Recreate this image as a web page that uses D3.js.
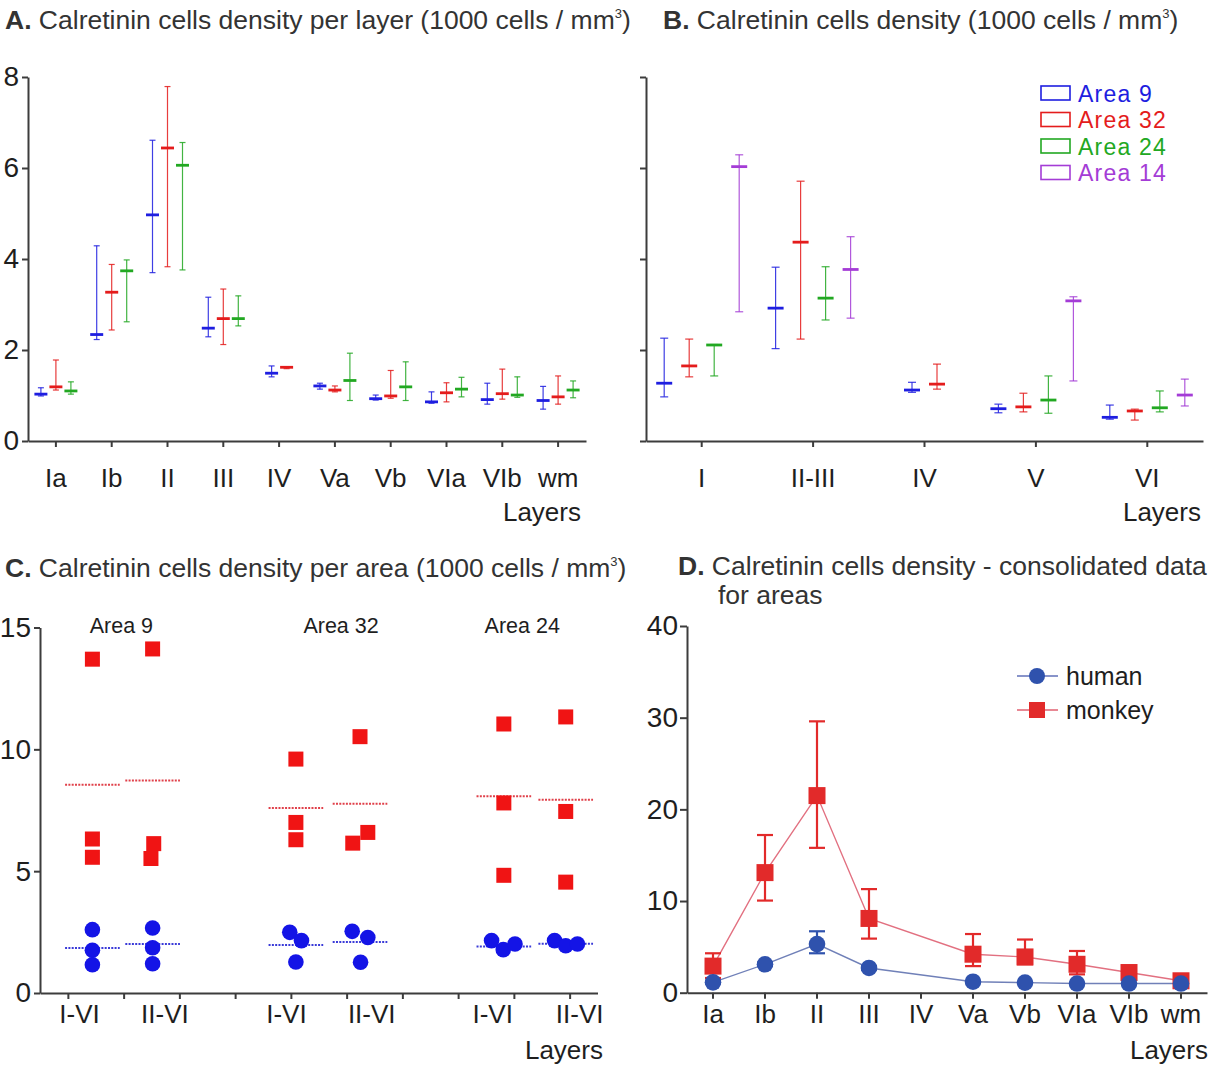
<!DOCTYPE html>
<html><head><meta charset="utf-8">
<script src="https://cdn.jsdelivr.net/npm/d3@7"></script>
<style>body{margin:0;background:#fff} text{font-family:"Liberation Sans",Arial,Helvetica,sans-serif}</style>
</head><body><svg id="c" width="1212" height="1065"></svg>
<script>
// ---------- Panel A data: [mean, low, high] per layer (null = not measured)
const layersA = ["Ia","Ib","II","III","IV","Va","Vb","VIa","VIb","wm"];
const area9A  = [[1.03,0.99,1.17],[2.34,2.23,4.29],[4.97,3.70,6.61],[2.48,2.29,3.16],[1.49,1.41,1.65],[1.21,1.14,1.27],[0.93,0.90,1.01],[0.86,0.83,1.08],[0.91,0.81,1.27],[0.89,0.70,1.20]];
const area32A = [[1.19,1.12,1.78],[3.27,2.44,3.88],[6.44,3.83,7.79],[2.69,2.12,3.34],[1.62,1.59,1.63],[1.12,1.08,1.21],[0.99,0.94,1.55],[1.06,0.86,1.28],[1.04,0.92,1.58],[0.97,0.81,1.43]];
const area24A = [[1.10,1.03,1.30],[3.74,2.62,3.98],[6.06,3.76,6.56],[2.69,2.53,3.19],null,[1.33,0.89,1.93],[1.19,0.89,1.74],[1.14,0.97,1.40],[1.01,0.96,1.41],[1.12,0.95,1.32]];
const yTicksA = [0,2,4,6,8];

// ---------- Panel B data
const layersB = ["I","II-III","IV","V","VI"];
const areaNames = ["Area 9","Area 32","Area 24","Area 14"];
const area9B  = [[1.27,0.97,2.26],[2.92,2.03,3.82],[1.12,1.07,1.29],[0.71,0.62,0.81],[0.52,0.48,0.79]];
const area32B = [[1.65,1.41,2.24],[4.37,2.24,5.71],[1.25,1.14,1.69],[0.75,0.64,1.05],[0.66,0.46,0.70]];
const area24B = [[2.11,1.43,2.12],[3.14,2.66,3.83],null,[0.90,0.61,1.43],[0.73,0.64,1.10]];
const area14B = [[6.03,2.84,6.29],[3.77,2.70,4.49],null,[3.08,1.32,3.17],[1.01,0.77,1.36]];

// ---------- Panel C data
const groupsC = ["I-VI","II-VI","I-VI","II-VI","I-VI","II-VI"];
const areaTitlesC = ["Area 9","Area 32","Area 24"];
const areaTitlePosC = [0.96,4.9,8.15];
const groupPosC = [0.44,1.52,4.09,5.24,7.82,8.93];
const labelPosC = [0.21,1.74,3.92,5.45,7.62,9.18];
const humanC = [[2.60,1.75,1.16],[2.67,1.86,1.20],[2.49,2.15,1.27],[2.53,2.28,1.26],[2.15,1.78,2.01],[2.15,1.94,2.01]];
const humanJitterC = [[0,0,0],[0,0,0],[-0.11,0.10,0],[-0.14,0.14,0.01],[-0.22,-0.01,0.20],[-0.20,0,0.21]];
const monkeyC = [[13.7,6.32,5.57],[14.12,6.13,5.52],[9.60,7.00,6.29],[10.52,6.59,6.15],[11.04,7.80,4.83],[11.33,7.45,4.55]];
const monkeyJitterC = [[0,0,0],[0,0.02,-0.03],[0,0,0],[0,0.14,-0.13],[0,0,0],[0,0,0]];
const humanMeanC = [1.85,2.01,1.97,2.09,1.91,2.02];
const monkeyMeanC = [8.55,8.72,7.59,7.77,8.07,7.93];
const yTicksC = [0,5,10,15];

// ---------- Panel D data: [mean, low, high]
const layersD = ["Ia","Ib","II","III","IV","Va","Vb","VIa","VIb","wm"];
const humanD  = [[1.13,1.0,1.3],[3.1,2.9,3.3],[5.3,4.3,6.7],[2.7,2.5,2.9],null,[1.2,1.1,1.3],[1.1,1.0,1.2],[1.0,0.9,1.1],[1.0,0.9,1.1],[1.0,0.9,1.1]];
const monkeyD = [[2.9,1.6,4.3],[13.1,10.05,17.2],[21.5,15.8,29.6],[8.1,5.9,11.3],null,[4.2,2.9,6.4],[3.9,3.1,5.8],[3.1,2.0,4.55],[2.2,1.8,2.6],[1.3,1.0,1.6]];
const yTicksD = [0,10,20,30,40];

// ---------- styles
const FONT = '"Liberation Sans",Arial,Helvetica,sans-serif';
const COL = {blue:"#1e1ee0", red:"#e41c1c", green:"#22a822", purple:"#a43cd6"};
const AXIS = "#3c3c3c", TXT = "#1e1e1e";
const TFS = 26.5;   // title font size
const LFS = 26;     // axis label font size
const svg = d3.select("#c");

function styleAxis(g, fs){
  g.select(".domain").attr("stroke",AXIS).attr("stroke-width",2);
  g.selectAll(".tick line").attr("stroke",AXIS).attr("stroke-width",2);
  g.selectAll(".tick text").attr("fill",TXT).style("font-size",fs+"px").style("font-family",FONT);
}
function title(x, y, letter, rest, sup, after){
  const t = svg.append("text").attr("x",x).attr("y",y).attr("fill","#333").style("font-size",TFS+"px");
  t.append("tspan").attr("font-weight","bold").text(letter);
  t.append("tspan").text(rest);
  if(sup){
    t.append("tspan").attr("dy",-11).style("font-size","13px").text(sup);
    t.append("tspan").attr("dy",11).text(after);
  }
  return t;
}
function label(x,y,txt,anchor,fs){
  return svg.append("text").attr("x",x).attr("y",y).attr("text-anchor",anchor||"middle")
    .attr("fill",TXT).style("font-size",(fs||LFS)+"px").text(txt);
}

// error bar groups (A, B)
function errorPanel(x, y, seriesList, colors, step, capW, meanW){
  const g = svg.append("g");
  x.domain().forEach((cat,i)=>{
    const present = seriesList.map((s,k)=>({d:s[i],k})).filter(o=>o.d);
    const n = present.length;
    present.forEach((o,j)=>{
      const cx = x(cat)+x.bandwidth()/2 + (j-(n-1)/2)*step;
      const [m,lo,hi] = o.d, c = colors[o.k];
      g.append("line").attr("x1",cx).attr("x2",cx).attr("y1",y(lo)).attr("y2",y(hi)).attr("stroke",c).attr("stroke-width",1.2).attr("opacity",0.85);
      [lo,hi].forEach(v=>g.append("line").attr("x1",cx-capW/2).attr("x2",cx+capW/2).attr("y1",y(v)).attr("y2",y(v)).attr("stroke",c).attr("stroke-width",1.2).attr("opacity",0.85));
      g.append("line").attr("x1",cx-meanW/2).attr("x2",cx+meanW/2).attr("y1",y(m)).attr("y2",y(m)).attr("stroke",c).attr("stroke-width",2.8);
    });
  });
}

// ================= Panel A
{
  const x = d3.scaleBand().domain(layersA).range([28,586]);
  const y = d3.scaleLinear().domain([0,8]).range([441,77]);
  const ax = svg.append("g").attr("transform","translate(0,441)")
    .call(d3.axisBottom(x).tickSize(6).tickSizeOuter(0).tickFormat(""));
  styleAxis(ax,LFS);
  const ay = svg.append("g").attr("transform","translate(28,0)")
    .call(d3.axisLeft(y).tickValues(yTicksA).tickSize(6).tickPadding(3).tickSizeOuter(0));
  styleAxis(ay,28);
  layersA.forEach(l=>label(x(l)+x.bandwidth()/2, 487, l));
  label(581, 521, "Layers", "end");
  errorPanel(x,y,[area9A,area32A,area24A],[COL.blue,COL.red,COL.green],15,6,13);
  title(5, 29, "A.", " Calretinin cells density per layer (1000 cells / mm", "3", ")");
}

// ================= Panel B
{
  const x = d3.scaleBand().domain(layersB).range([646,1203]);
  const y = d3.scaleLinear().domain([0,8]).range([441,77]);
  const ax = svg.append("g").attr("transform","translate(0,441)")
    .call(d3.axisBottom(x).tickSize(6).tickSizeOuter(0).tickFormat(""));
  styleAxis(ax,LFS);
  const ay = svg.append("g").attr("transform","translate(646,0)")
    .call(d3.axisLeft(y).tickValues(yTicksA).tickSize(6).tickSizeOuter(0).tickFormat(""));
  styleAxis(ay,LFS);
  layersB.forEach(l=>label(x(l)+x.bandwidth()/2, 487, l));
  label(1201, 521, "Layers", "end");
  errorPanel(x,y,[area9B,area32B,area24B,area14B],[COL.blue,COL.red,COL.green,COL.purple],25,8,16);
  title(663, 29, "B.", " Calretinin cells density (1000 cells / mm", "3", ")");
  // legend
  const cols = [COL.blue,COL.red,COL.green,COL.purple];
  areaNames.forEach((n,i)=>{
    const yy = 93 + i*26.5;
    svg.append("rect").attr("x",1041).attr("y",yy-7).attr("width",29).attr("height",14)
      .attr("fill","none").attr("stroke",cols[i]).attr("stroke-width",1.6);
    svg.append("text").attr("x",1078).attr("y",yy+8.5).attr("fill",cols[i])
      .style("font-size","23px").style("letter-spacing","1.2px").text(n);
  });
}

// ================= Panel C
{
  const x = d3.scaleLinear().domain([-0.5,9.5]).range([40,597.5]);
  const y = d3.scaleLinear().domain([0,15]).range([993,627.5]);
  const ax = svg.append("g").attr("transform","translate(0,993)")
    .call(d3.axisBottom(x).tickValues(d3.range(0,10)).tickSize(6).tickSizeOuter(0).tickFormat(""));
  styleAxis(ax,LFS);
  const ay = svg.append("g").attr("transform","translate(40,0)")
    .call(d3.axisLeft(y).tickValues(yTicksC).tickSize(6).tickPadding(3).tickSizeOuter(0));
  styleAxis(ay,28);
  groupsC.forEach((gname,i)=>label(x(labelPosC[i]), 1023, gname));
  label(603, 1059, "Layers", "end");
  areaTitlesC.forEach((a,i)=>label(x(areaTitlePosC[i]), 633, a, "middle", 21.5));
  const g = svg.append("g");
  groupPosC.forEach((p,i)=>{
    g.append("line").attr("x1",x(p-0.49)).attr("x2",x(p+0.49)).attr("y1",y(monkeyMeanC[i])).attr("y2",y(monkeyMeanC[i]))
      .attr("stroke","#e0404a").attr("stroke-width",2).attr("stroke-dasharray","2,1.3");
    g.append("line").attr("x1",x(p-0.49)).attr("x2",x(p+0.49)).attr("y1",y(humanMeanC[i])).attr("y2",y(humanMeanC[i]))
      .attr("stroke","#3a3ad8").attr("stroke-width",2).attr("stroke-dasharray","2,1.3");
    monkeyC[i].forEach((v,k)=>{
      const cx = x(p+monkeyJitterC[i][k]);
      g.append("rect").attr("x",cx-7.5).attr("y",y(v)-7.5).attr("width",15).attr("height",15).attr("fill","#f01414");
    });
    humanC[i].forEach((v,k)=>{
      const cx = x(p+humanJitterC[i][k]);
      g.append("circle").attr("cx",cx).attr("cy",y(v)).attr("r",7.8).attr("fill","#1414e6");
    });
  });
  title(5, 577, "C.", " Calretinin cells density per area (1000 cells / mm", "3", ")");
}

// ================= Panel D
{
  const x = d3.scaleBand().domain(layersD).range([687,1207]);
  const y = d3.scaleLinear().domain([0,40]).range([992.7,626]);
  const cx = l => x(l)+x.bandwidth()/2;
  const ax = svg.append("g").attr("transform","translate(0,992.7)")
    .call(d3.axisBottom(x).tickSize(6).tickSizeOuter(0).tickFormat(""));
  styleAxis(ax,LFS);
  const ay = svg.append("g").attr("transform","translate(687,0)")
    .call(d3.axisLeft(y).tickValues(yTicksD).tickSize(7).tickPadding(2).tickSizeOuter(0));
  styleAxis(ay,28);
  layersD.forEach(l=>label(cx(l), 1023, l));
  label(1208, 1059, "Layers", "end");

  const line = d3.line().x(d=>cx(d.l)).y(d=>y(d.v[0]));
  const mk = arr => layersD.map((l,i)=>({l,v:arr[i]})).filter(d=>d.v);
  const hum = mk(humanD), mon = mk(monkeyD);
  const g = svg.append("g");
  g.append("path").attr("d",line(mon)).attr("fill","none").attr("stroke","#e27080").attr("stroke-width",1.4);
  g.append("path").attr("d",line(hum)).attr("fill","none").attr("stroke","#7080b8").attr("stroke-width",1.4);
  function eb(data,color){
    data.forEach(d=>{
      const xx = cx(d.l), [m,lo,hi] = d.v;
      g.append("line").attr("x1",xx).attr("x2",xx).attr("y1",y(lo)).attr("y2",y(hi)).attr("stroke",color).attr("stroke-width",2.2);
      [lo,hi].forEach(v=>g.append("line").attr("x1",xx-8).attr("x2",xx+8).attr("y1",y(v)).attr("y2",y(v)).attr("stroke",color).attr("stroke-width",2.2));
    });
  }
  eb(mon,"#e22a2a"); eb(hum,"#2f52ad");
  mon.forEach(d=>g.append("rect").attr("x",cx(d.l)-8.5).attr("y",y(d.v[0])-8.5).attr("width",17).attr("height",17).attr("fill","#e22a2a"));
  hum.forEach(d=>g.append("circle").attr("cx",cx(d.l)).attr("cy",y(d.v[0])).attr("r",8.3).attr("fill","#2f52ad"));

  // legend
  svg.append("line").attr("x1",1017).attr("x2",1058).attr("y1",676).attr("y2",676).attr("stroke","#6070b8").attr("stroke-width",1.6);
  svg.append("circle").attr("cx",1037).attr("cy",676).attr("r",8).attr("fill","#2f52ad");
  svg.append("text").attr("x",1066).attr("y",685).attr("fill",TXT).style("font-size","25px").text("human");
  svg.append("line").attr("x1",1017).attr("x2",1058).attr("y1",710).attr("y2",710).attr("stroke","#e06070").attr("stroke-width",1.6);
  svg.append("rect").attr("x",1029).attr("y",702).attr("width",16).attr("height",16).attr("fill","#e22a2a");
  svg.append("text").attr("x",1066).attr("y",719).attr("fill",TXT).style("font-size","25px").text("monkey");

  const t = svg.append("text").attr("x",678).attr("y",575).attr("fill","#333").style("font-size",TFS+"px");
  t.append("tspan").attr("font-weight","bold").text("D.");
  t.append("tspan").text(" Calretinin cells density - consolidated data");
  svg.append("text").attr("x",718).attr("y",604).attr("fill","#333").style("font-size",TFS+"px").text("for areas");
}
</script></body></html>
